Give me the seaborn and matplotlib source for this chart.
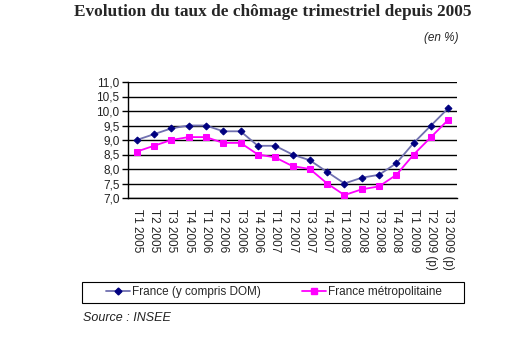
import numpy as np
import pandas as pd
import matplotlib
matplotlib.use("Agg")
import matplotlib.pyplot as plt
import seaborn as sns
from matplotlib.lines import Line2D
from matplotlib.patches import Rectangle

quarters = ["T1 2005", "T2 2005", "T3 2005", "T4 2005", "T1 2006", "T2 2006", "T3 2006",
            "T4 2006", "T1 2007", "T2 2007", "T3 2007", "T4 2007", "T1 2008", "T2 2008",
            "T3 2008", "T4 2008", "T1 2009", "T2 2009 (p)", "T3 2009 (p)"]
france_dom = [9.0, 9.2, 9.4, 9.5, 9.5, 9.3, 9.3, 8.8, 8.8, 8.5, 8.3, 7.9, 7.5, 7.7, 7.8, 8.2, 8.9, 9.5, 10.1]
france_metro = [8.6, 8.8, 9.0, 9.1, 9.1, 8.9, 8.9, 8.5, 8.4, 8.1, 8.0, 7.5, 7.1, 7.3, 7.4, 7.8, 8.5, 9.1, 9.7]
series_names = ["France (y compris DOM)", "France métropolitaine"]
y_ticks = [7.0, 7.5, 8.0, 8.5, 9.0, 9.5, 10.0, 10.5, 11.0]

sns.set_style("white")
plt.rcParams['font.family'] = ['Liberation Sans', 'DejaVu Sans']

fig = plt.figure(figsize=(5.29, 3.37), dpi=100)
ax = fig.add_axes([128/529, 1-198/337, (457-128)/529, (198-82)/337])

idx = np.arange(len(quarters))
df = pd.DataFrame({"idx": np.concatenate([idx, idx]),
                   "val": france_dom + france_metro,
                   "serie": [series_names[0]]*len(idx) + [series_names[1]]*len(idx)})

for yv in y_ticks:
    ax.axhline(yv, color="black", lw=1.0, zorder=1)

sns.lineplot(data=df[df.serie == series_names[0]], x="idx", y="val", ax=ax,
             color="#7070b0", lw=1.3, marker="D", markersize=3.5,
             markerfacecolor="#000080", markeredgecolor="#000080", zorder=3, legend=False)
sns.lineplot(data=df[df.serie == series_names[1]], x="idx", y="val", ax=ax,
             color="#ff00ff", lw=1.3, marker="s", markersize=5,
             markerfacecolor="#ff00ff", markeredgecolor="#ff00ff", zorder=3, legend=False)

ax.set_xlim(-0.5, len(quarters) - 0.5)
ax.set_ylim(7.0, 11.0)
ax.set_yticks(y_ticks)
ax.set_yticklabels([f"{v:.1f}".replace(".", ",") for v in y_ticks], fontsize=8.5, color="#222222")
ax.set_xticks(idx)
ax.set_xticklabels(quarters, rotation=270, fontsize=8.5, color="#222222")
ax.set_xticks(np.arange(-0.5, len(quarters), 1.0), minor=True)
ax.tick_params(axis="x", which="major", length=0, pad=8)
ax.tick_params(axis="x", which="minor", length=4, width=1, direction="out", color="black")
ax.tick_params(axis="y", length=4, width=1, direction="out", color="black", pad=2, left=True)
ax.set_xlabel("")
ax.set_ylabel("")
for s in ["top", "right"]:
    ax.spines[s].set_visible(False)
for s in ["left", "bottom"]:
    ax.spines[s].set_color("black")
    ax.spines[s].set_linewidth(1.0)

fig.text(273/529, 1-12/337, "Evolution du taux de chômage trimestriel depuis 2005",
         ha="center", va="center", fontsize=12.4, fontweight="bold",
         family=["Liberation Serif", "DejaVu Serif"])
fig.text(459/529, 1-38/337, "(en %)", ha="right", va="center", fontsize=8.5, style="italic")
fig.text(83/529, 1-318/337, "Source : INSEE", ha="left", va="center", fontsize=9, style="italic",
         color="#222222")

fig.patches.append(Rectangle((82/529, 1-303/337), (464-82)/529, 21/337,
                             transform=fig.transFigure, fill=False, edgecolor="black", lw=0.8))

handles = [Line2D([], [], color="#7070b0", lw=1.3, marker="D", markersize=3.5,
                  markerfacecolor="#000080", markeredgecolor="#000080"),
           Line2D([], [], color="#ff00ff", lw=1.3, marker="s", markersize=5,
                  markerfacecolor="#ff00ff", markeredgecolor="#ff00ff")]
leg = fig.legend(handles, series_names, ncol=2, loc="center",
                 bbox_to_anchor=(274/529, 1-292.5/337),
                 frameon=False, fontsize=8.5,
                 handlelength=2.0, handletextpad=0.2, columnspacing=3.5,
                 borderpad=0, borderaxespad=0)

fig.savefig("out.png", dpi=100)
